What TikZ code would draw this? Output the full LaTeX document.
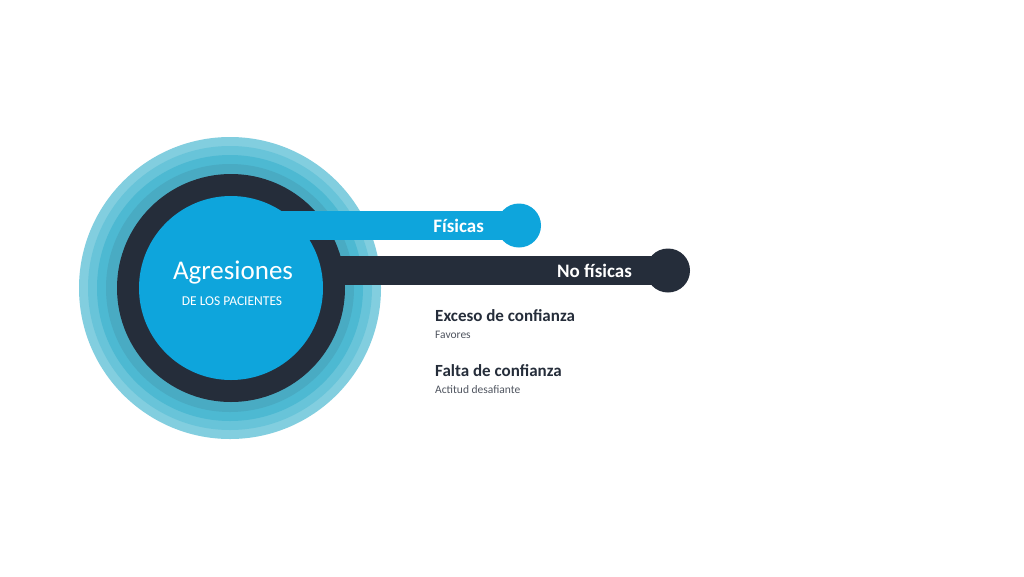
\documentclass[tikz,border=0pt]{standalone}
\usepackage{fontspec}
\setmainfont{Carlito}
\definecolor{cblue}{HTML}{0EA5DC}
\definecolor{cglow}{HTML}{4DB9D2}
\definecolor{cdark}{HTML}{252D3A}
\definecolor{cgray}{HTML}{505560}
\begin{document}
\begin{tikzpicture}[x=1pt,y=-1pt,
  head/.style={font=\bfseries\fontsize{17}{20}\selectfont,text=cdark,anchor=west,inner sep=0},
  sub/.style={font=\fontsize{11.5}{13}\selectfont,text=cgray,anchor=west,inner sep=0},
  lab/.style={font=\bfseries\fontsize{19}{22}\selectfont,text=white,anchor=east,inner sep=0}]
\useasboundingbox (0,0) rectangle (1024,576);
\fill[white] (0,0) rectangle (1024,576);
% glow layers
\fill[cglow!70] (230,288) circle (151);
\fill[cglow!85] (230,288) circle (142);
\fill[cglow] (230,288) circle (133);
\fill[cglow!90!cdark] (230,288) circle (124);
% dark ring
\fill[cdark] (231,288) circle (114);
% bars
\fill[cblue] (270,211) rectangle (519,240);
\node[circle,fill=cblue,minimum size=44,inner sep=0] (f) at (519,225.5) {};
\fill[cdark] (300,256) rectangle (668,285);
\node[circle,fill=cdark,minimum size=44,inner sep=0] (n) at (668,270.5) {};
% inner circle
\node[circle,fill=cblue,minimum size=184,inner sep=0] (c) at (231,288) {};
\node[font=\fontsize{27}{30}\selectfont,text=white,inner sep=0] (t1) at (233,273) {Agresiones};
\node[font=\fontsize{13.5}{15}\selectfont,text=white,inner sep=0] (t2) at (232,301) {DE LOS PACIENTES};
\node[lab] (lf) at (484,226) {Físicas};
\node[lab] (ln) at (632,271) {No físicas};
\node[head] (h1) at (435,316) {Exceso de confianza};
\node[sub] (s1) at (435,335) {Favores};
\node[head] (h2) at (435,371) {Falta de confianza};
\node[sub] (s2) at (435,390) {Actitud desafiante};
\end{tikzpicture}
\end{document}
